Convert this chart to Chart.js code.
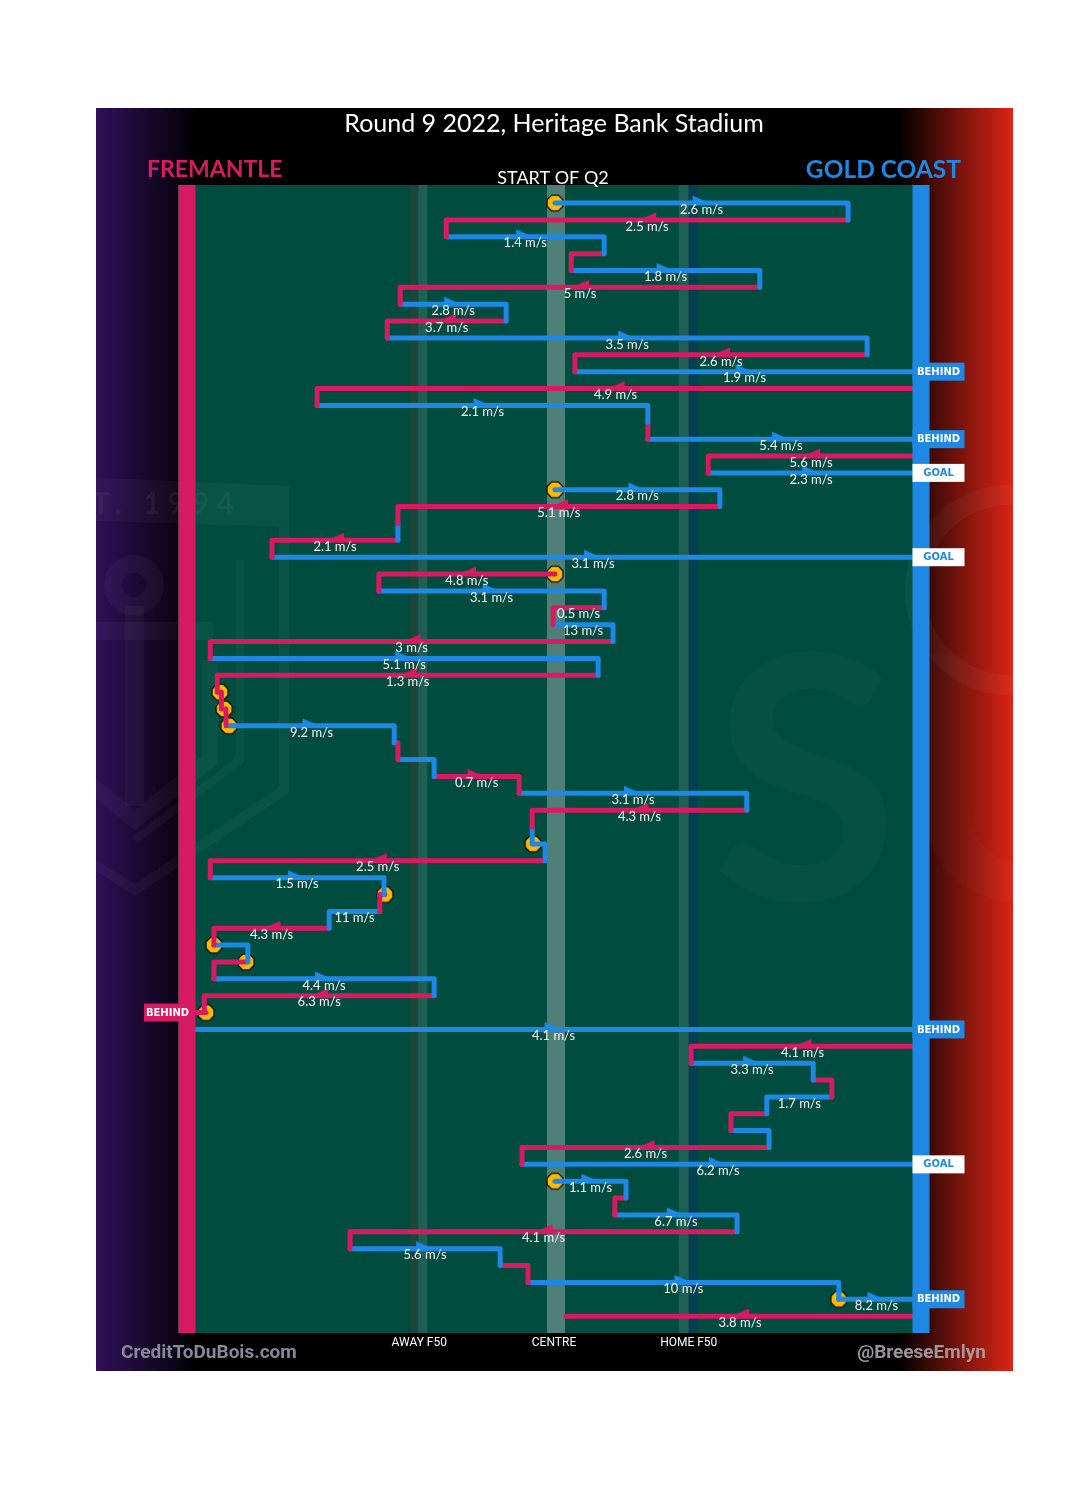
<!DOCTYPE html>
<html>
<head>
<meta charset="utf-8">
<title>Round 9 2022 - start of Q2 chains</title>
<script src="https://cdn.jsdelivr.net/npm/chart.js@4.4.1/dist/chart.umd.min.js"></script>
<style>
  html, body { margin: 0; padding: 0; background: #fff; }
  canvas { display: block; }
</style>
</head>
<body>
<canvas id="chart" width="1080" height="1495"></canvas>
<script>
// one entry per possession, top row first (start of Q2)
// x = metres from the Fremantle goal line, ground is 158m long
const teams = ['GC','FRE','GC','FRE','GC','FRE','GC','FRE','GC','FRE',
               'GC','FRE','GC','FRE','GC','FRE','GC','GC','FRE','GC',
               'FRE','GC','FRE','GC','FRE','GC','FRE','GC','FRE','FRE',
               'FRE','GC','FRE','GC','FRE','GC','FRE','GC','GC','FRE',
               'GC','FRE','GC','FRE','GC','FRE','GC','FRE','FRE','GC',
               'FRE','GC','FRE','GC','FRE','GC','FRE','GC','GC','FRE',
               'GC','FRE','GC','FRE','GC','GC','FRE'];
const startX = [79.2, 142.3, 55.8, 89.8, 82.7, 123.3, 45.9, 68.7, 43.1, 146.4,
                83.5, 156.5, 28.0, 99.2, 99.2, 156.5, 112.2, 79.2, 114.7, 45.4,
                45.4, 18.3, 79.2, 41.3, 89.8, 78.8, 91.7, 5.0, 88.5, 7.1,
                8.0, 9.0, 44.6, 45.4, 53.2, 71.5, 120.5, 74.3, 74.5, 77.1,
                5.0, 42.6, 41.5, 30.6, 5.8, 12.7, 5.8, 53.2, 4.1, 1.3,
                156.5, 108.5, 134.8, 138.8, 124.8, 117.1, 125.3, 72.1, 79.2, 94.5,
                92.1, 118.4, 35.1, 67.4, 73.4, 140.3, 156.5];
const endX = [142.3, 55.8, 89.8, 82.7, 123.3, 45.9, 68.7, 43.1, 146.4, 83.5,
              156.5, 28.0, 99.2, 99.2, 156.5, 112.2, 156.5, 114.7, 45.4, 45.4,
              18.3, 156.5, 41.3, 89.8, 78.8, 91.7, 5.0, 88.5, 6.5, 7.4,
              8.4, 44.6, 45.4, 53.2, 71.5, 120.5, 74.3, 74.3, 77.1, 5.0,
              42.4, 41.5, 30.6, 5.8, 13.1, 5.8, 53.2, 3.7, 0, 156.5,
              108.5, 134.8, 138.8, 124.8, 117.1, 125.3, 72.1, 156.5, 94.5, 92.1,
              118.4, 35.1, 67.4, 73.4, 140.3, 156.5, 81.6];
// ball speed in m/s (null = too short to label)
const speeds = [2.6, 2.5, 1.4, null, 1.8, 5, 2.8, 3.7, 3.5, 2.6,
                1.9, 4.9, 2.1, null, 5.4, 5.6, 2.3, 2.8, 5.1, null,
                2.1, 3.1, 4.8, 3.1, 0.5, 13, 3, 5.1, 1.3, null,
                null, 9.2, null, null, 0.7, 3.1, 4.3, null, null, 2.5,
                1.5, null, 11, 4.3, null, null, 4.4, 6.3, null, 4.1,
                4.1, 3.3, null, 1.7, null, null, 2.6, 6.2, 1.1, null,
                6.7, 4.1, 5.6, null, 10, 8.2, 3.8];
const stoppageRows = [0, 17, 22, 29, 30, 31, 38, 41, 44, 45, 48, 58, 65];
const behindRows = [10, 14, 48, 49, 65];
const goalRows = [16, 21, 57];
const zoneNames = ['AWAY F50', 'CENTRE', 'HOME F50'];
const zoneX = [50, 79, 108];

const COLORS = { FRE: '#d81b60', GC: '#1e88e5' };
const scored = i => behindRows.includes(i) || goalRows.includes(i);

function makeArrow(color, dir) {
  const c = document.createElement('canvas');
  c.width = 30; c.height = 20;
  const g = c.getContext('2d');
  g.translate(15, 10);
  g.scale(dir, 1);
  g.fillStyle = color;
  g.beginPath();
  g.moveTo(-9, -7.5);
  g.lineTo(4.5, -1.5);
  g.lineTo(-9, 2.5);
  g.closePath();
  g.fill();
  return c;
}
const arrowImgs = {
  GC1: makeArrow(COLORS.GC, 1), GC_1: makeArrow(COLORS.GC, -1),
  FRE1: makeArrow(COLORS.FRE, 1), FRE_1: makeArrow(COLORS.FRE, -1)
};

function makeStop() {
  const c = document.createElement('canvas');
  c.width = 22; c.height = 22;
  const g = c.getContext('2d');
  g.translate(11, 11);
  g.beginPath();
  for (let k = 0; k < 8; k++) {
    const a = Math.PI / 8 + k * Math.PI / 4;
    if (k === 0) g.moveTo(8.6 * Math.cos(a), 8.6 * Math.sin(a));
    else g.lineTo(8.6 * Math.cos(a), 8.6 * Math.sin(a));
  }
  g.closePath();
  g.fillStyle = '#fbb900';
  g.fill();
  g.lineWidth = 1.3;
  g.strokeStyle = '#111';
  g.stroke();
  return c;
}
const stopImg = makeStop();

// each possession: across its row, then down to the next row
const chainSets = teams.map((team, i) => {
  const pts = [{ x: startX[i], y: i }, { x: endX[i], y: i }];
  if (i < teams.length - 1 && !scored(i)) pts.push({ x: endX[i], y: i + 1 });
  return {
    data: pts,
    showLine: true,
    borderColor: COLORS[team],
    borderWidth: 5,
    borderCapStyle: 'round',
    borderJoinStyle: 'round',
    pointRadius: 0,
    tension: 0,
    order: 2
  };
});

const arrowPts = [];
teams.forEach((team, i) => {
  const len = endX[i] - startX[i];
  if (speeds[i] != null && Math.abs(len) > 15) {
    arrowPts.push({ x: (startX[i] + endX[i]) / 2, y: i, team: team, dir: Math.sign(len) });
  }
});

const stopPts = stoppageRows.map(i => ({ x: startX[i], y: i }));

// faint club emblems behind the field
function watermarks(ctx) {
  ctx.save();
  ctx.beginPath();
  ctx.rect(96, 108, 917, 1263);
  ctx.clip();
  ctx.strokeStyle = 'rgba(255,255,255,0.035)';
  ctx.fillStyle = 'rgba(255,255,255,0.03)';
  // shield banner + outline
  ctx.beginPath();
  ctx.moveTo(60, 476);
  ctx.lineTo(289, 486);
  ctx.lineTo(289, 527);
  ctx.lineTo(60, 520);
  ctx.closePath();
  ctx.fill();
  ctx.lineWidth = 10;
  ctx.beginPath();
  ctx.moveTo(284, 527);
  ctx.lineTo(284, 790);
  ctx.lineTo(135, 890);
  ctx.lineTo(40, 830);
  ctx.stroke();
  ctx.lineWidth = 8;
  ctx.beginPath();
  ctx.moveTo(240, 560);
  ctx.lineTo(240, 760);
  ctx.lineTo(135, 840);
  ctx.stroke();
  ctx.font = 'bold 30px Lato';
  ctx.letterSpacing = '7px';
  ctx.fillStyle = 'rgba(255,255,255,0.05)';
  ctx.textBaseline = 'middle';
  ctx.textAlign = 'left';
  ctx.fillText('EST. 1994', 44, 504);
  ctx.letterSpacing = '0px';
  // anchor
  ctx.lineWidth = 18;
  ctx.beginPath();
  ctx.arc(134, 585, 21, 0, Math.PI * 2);
  ctx.stroke();
  ctx.fillStyle = 'rgba(255,255,255,0.035)';
  ctx.fillRect(125, 606, 19, 200);
  ctx.fillRect(96, 622, 117, 18);
  ctx.lineWidth = 16;
  ctx.beginPath();
  ctx.moveTo(60, 700);
  ctx.lineTo(60, 760);
  ctx.moveTo(210, 660);
  ctx.lineTo(210, 760);
  ctx.lineTo(135, 820);
  ctx.lineTo(60, 760);
  ctx.stroke();
  // suns lettering and ring
  ctx.fillStyle = 'rgba(255,255,255,0.018)';
  ctx.font = 'bold 340px Lato';
  ctx.textBaseline = 'alphabetic';
  ctx.fillText('SU', 712, 900);
  ctx.strokeStyle = 'rgba(255,255,255,0.04)';
  ctx.lineWidth = 20;
  ctx.beginPath();
  ctx.arc(1010, 590, 95, 0, Math.PI * 2);
  ctx.stroke();
  ctx.restore();
}

const decor = {
  id: 'decor',
  beforeDraw(chart) {
    const { ctx, chartArea: a, scales: { x } } = chart;
    ctx.save();
    ctx.fillStyle = '#fff';
    ctx.fillRect(0, 0, chart.width, chart.height);
    ctx.fillStyle = '#000';
    ctx.fillRect(96, 108, 917, 1263);
    let g = ctx.createLinearGradient(96, 0, 200, 0);
    g.addColorStop(0, '#2f1059');
    g.addColorStop(1, 'rgba(47,16,89,0)');
    ctx.fillStyle = g;
    ctx.fillRect(96, 108, 104, 1263);
    g = ctx.createLinearGradient(898, 0, 1013, 0);
    g.addColorStop(0, 'rgba(221,36,22,0)');
    g.addColorStop(1, '#dd2416');
    ctx.fillStyle = g;
    ctx.fillRect(898, 108, 115, 1263);

    // field
    ctx.fillStyle = '#004d40';
    ctx.fillRect(a.left, a.top, a.width, a.height);
    const band = (m, d0, d1, col) => {
      const p = x.getPixelForValue(m);
      ctx.fillStyle = col;
      ctx.fillRect(p + d0, a.top, d1 - d0, a.height);
    };
    band(zoneX[0], -9, -1, '#1d4539');
    band(zoneX[0], -1, 8, '#1f6055');
    band(zoneX[1], -7, 11, '#4e8077');
    band(zoneX[2], -10, 0, '#1f6055');
    band(zoneX[2], 0, 9, '#053f51');
    watermarks(ctx);

    // headings
    ctx.textBaseline = 'middle';
    ctx.fillStyle = '#fff';
    ctx.textAlign = 'center';
    ctx.font = '25px Lato';
    ctx.fillText('Round 9 2022, Heritage Bank Stadium', 554, 124);
    ctx.font = '18px Lato';
    ctx.fillText('START OF Q2', 553, 178);
    ctx.font = 'bold 23px Lato';
    ctx.fillStyle = COLORS.FRE;
    ctx.textAlign = 'left';
    ctx.fillText('FREMANTLE', 147, 170);
    ctx.font = 'bold 24.5px Lato';
    ctx.fillStyle = COLORS.GC;
    ctx.textAlign = 'right';
    ctx.fillText('GOLD COAST', 961, 170);

    ctx.textAlign = 'center';
    ctx.fillStyle = '#fff';
    ctx.font = '12px "Liberation Sans Narrow", Roboto';
    zoneNames.forEach((n, k) => ctx.fillText(n, x.getPixelForValue(zoneX[k]), 1343));
    ctx.font = 'bold 19px "Liberation Sans Narrow", Roboto';
    ctx.fillStyle = '#8a879a';
    ctx.textAlign = 'left';
    ctx.fillText('CreditToDuBois.com', 121, 1353);
    ctx.fillStyle = 'rgba(180,172,176,0.85)';
    ctx.textAlign = 'right';
    ctx.fillText('@BreeseEmlyn', 986, 1353);
    ctx.restore();
  },
  afterDatasetsDraw(chart) {
    const { ctx, chartArea: a, scales: { x, y } } = chart;
    ctx.save();
    // goal lines
    const p0 = x.getPixelForValue(0), p1 = x.getPixelForValue(158);
    ctx.fillStyle = COLORS.FRE;
    ctx.fillRect(p0 - 8.5, a.top, 17, a.height);
    ctx.fillStyle = COLORS.GC;
    ctx.fillRect(p1 - 8.5, a.top, 17, a.height);

    // scores
    ctx.textAlign = 'center';
    ctx.textBaseline = 'middle';
    ctx.font = 'bold 10px "DejaVu Sans"';
    const box = (i, label) => {
      const py = y.getPixelForValue(i);
      const home = teams[i] === 'GC';
      const bx = home ? p1 - 8.5 : 144;
      const bw = home ? 52 : p0 + 4 - 144;
      const goal = label === 'GOAL';
      ctx.fillStyle = goal ? '#fff' : COLORS[teams[i]];
      ctx.fillRect(bx, py - 9, bw, 18);
      ctx.fillStyle = goal ? COLORS[teams[i]] : '#fff';
      ctx.fillText(label, bx + bw / 2, py + 0.5);
    };
    behindRows.forEach(i => box(i, 'BEHIND'));
    goalRows.forEach(i => box(i, 'GOAL'));

    // speeds
    ctx.font = '13px Lato';
    ctx.fillStyle = '#f4f4f4';
    speeds.forEach((s, i) => {
      if (s == null) return;
      const px = x.getPixelForValue((startX[i] + endX[i]) / 2);
      ctx.fillText(s + ' m/s', px, y.getPixelForValue(i) + 6.5);
    });
    ctx.restore();
  }
};

new Chart(document.getElementById('chart'), {
  type: 'scatter',
  data: {
    datasets: [
      ...chainSets,
      {
        data: stopPts,
        pointStyle: stopImg,
        pointRadius: 9,
        showLine: false,
        order: 5
      },
      {
        data: arrowPts,
        pointStyle: c => (c.raw ? arrowImgs[c.raw.team + (c.raw.dir > 0 ? '1' : '_1')] : 'circle'),
        pointRadius: 8,
        showLine: false,
        order: 0
      }
    ]
  },
  options: {
    responsive: false,
    animation: false,
    layout: { padding: { left: 178, right: 151, top: 185, bottom: 162 } },
    scales: {
      x: { type: 'linear', min: -1.94, max: 159.72, display: false },
      y: { type: 'linear', min: -1.07, max: 67.0, reverse: true, display: false }
    },
    plugins: {
      legend: { display: false },
      tooltip: { enabled: false }
    }
  },
  plugins: [decor]
});
</script>
</body>
</html>
